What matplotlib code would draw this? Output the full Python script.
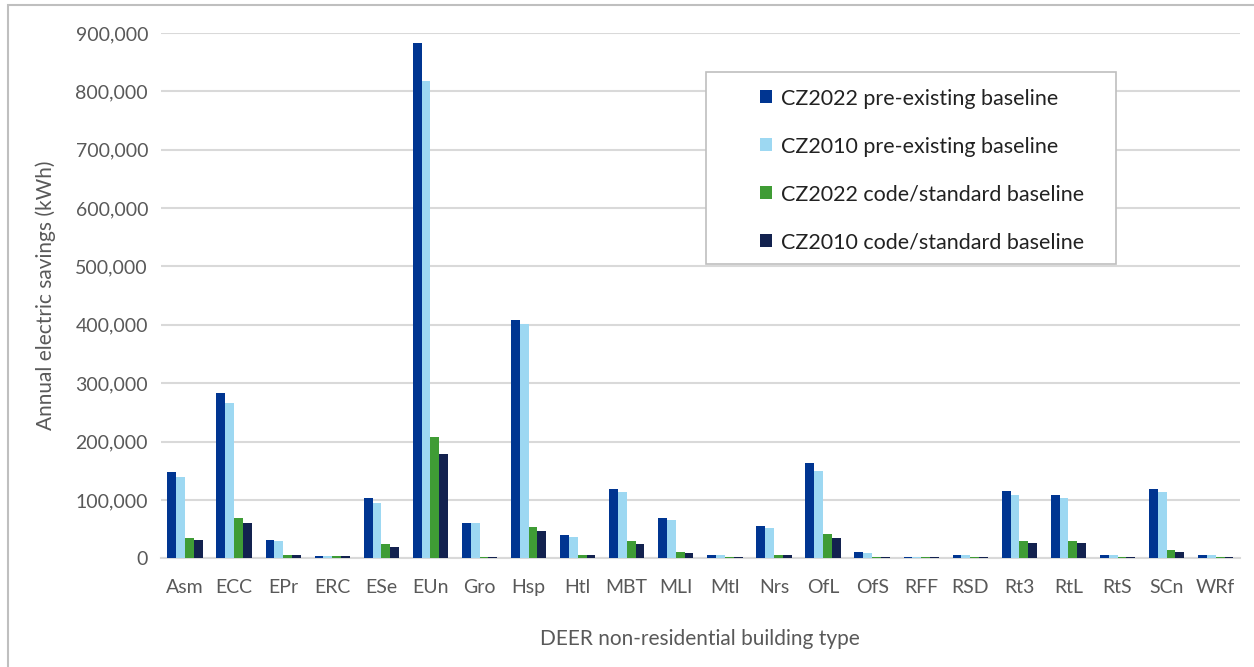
import matplotlib.pyplot as plt
import matplotlib.patches as patches
from matplotlib.ticker import FuncFormatter
import numpy as np

# building types and savings (kWh)
building_types = ['Asm', 'ECC', 'EPr', 'ERC', 'ESe', 'EUn', 'Gro', 'Hsp', 'Htl', 'MBT', 'MLI',
                  'Mtl', 'Nrs', 'OfL', 'OfS', 'RFF', 'RSD', 'Rt3', 'RtL', 'RtS', 'SCn', 'WRf']
cz2022_pre = [147000, 283500, 31500, 3400, 103500, 882000, 60700, 409000, 40000, 119000, 68600,
              5100, 55500, 163000, 11000, 2900, 5700, 116000, 108000, 5700, 119000, 5700]
cz2010_pre = [139000, 266000, 29000, 3400, 95000, 817000, 60700, 402000, 37000, 113000, 65800,
              5000, 52600, 150000, 8600, 2900, 5700, 108000, 103000, 5700, 113000, 5700]
cz2022_code = [34000, 69000, 5700, 3400, 24600, 207000, 2400, 53000, 5700, 29000, 11000,
               2900, 5700, 42000, 2900, 2900, 2900, 29000, 29000, 2900, 13700, 2900]
cz2010_code = [31500, 60700, 5700, 3400, 19000, 178000, 2400, 47500, 5700, 24000, 8600,
               2900, 5700, 34000, 2900, 2900, 2900, 26000, 26000, 2900, 11000, 2900]

series = [
    ('CZ2022 pre-existing baseline', cz2022_pre, '#003591'),
    ('CZ2010 pre-existing baseline', cz2010_pre, '#9dd8f2'),
    ('CZ2022 code/standard baseline', cz2022_code, '#3f9c35'),
    ('CZ2010 code/standard baseline', cz2010_code, '#13224f'),
]

plt.rcParams['font.family'] = ['Lato', 'DejaVu Sans']
text_gray = '#595959'

fig = plt.figure(figsize=(12.54, 6.67), dpi=100)
ax = fig.add_axes([0.128, 0.163, 0.861, 0.7877])

# outer chart frame
fig.patches.append(patches.Rectangle((8 / 1254, -0.01), 1.02, 1 - 5 / 667 + 0.01,
                                     transform=fig.transFigure, fill=False,
                                     edgecolor='#bfbfbf', linewidth=1.5))

x = np.arange(len(building_types))
w = 0.18
for i, (name, vals, col) in enumerate(series):
    ax.bar(x + (i - 1.5) * w, vals, width=w, color=col, label=name, zorder=3)

ax.set_xlim(-0.5, len(building_types) - 0.5)
ax.set_ylim(0, 900000)
ax.set_yticks(np.arange(0, 900001, 100000))
ax.yaxis.set_major_formatter(FuncFormatter(lambda v, p: f'{int(v):,}'))
ax.set_xticks(x)
ax.set_xticklabels(building_types)

ax.grid(axis='y', color='#d9d9d9', linewidth=1.5, zorder=0)
for s in ['top', 'right', 'left']:
    ax.spines[s].set_visible(False)
ax.spines['bottom'].set_color('#d9d9d9')
ax.spines['bottom'].set_linewidth(1.5)
ax.tick_params(axis='both', length=0, labelsize=14, labelcolor=text_gray)
ax.tick_params(axis='x', pad=15)
ax.tick_params(axis='y', pad=9)

ax.set_ylabel('Annual electric savings (kWh)', fontsize=15, color=text_gray, labelpad=14)
ax.set_xlabel('DEER non-residential building type', fontsize=15, color=text_gray, labelpad=24)

# legend box drawn separately so the padding can be wider than tall
ax.add_patch(patches.Rectangle((0.5052, 0.5601), 0.3798, 0.3655, transform=ax.transAxes,
                               facecolor='white', edgecolor='#bfbfbf', linewidth=1.2,
                               zorder=5))
leg = ax.legend(loc='upper left', bbox_to_anchor=(0.555, 0.894), fontsize=15.5,
                frameon=False, handlelength=0.55, handleheight=0.55, handletextpad=0.45,
                labelspacing=1.3, borderpad=0, borderaxespad=0)
leg.set_zorder(6)
for t in leg.get_texts():
    t.set_color('#222222')

fig.savefig('out.png', dpi=100)
